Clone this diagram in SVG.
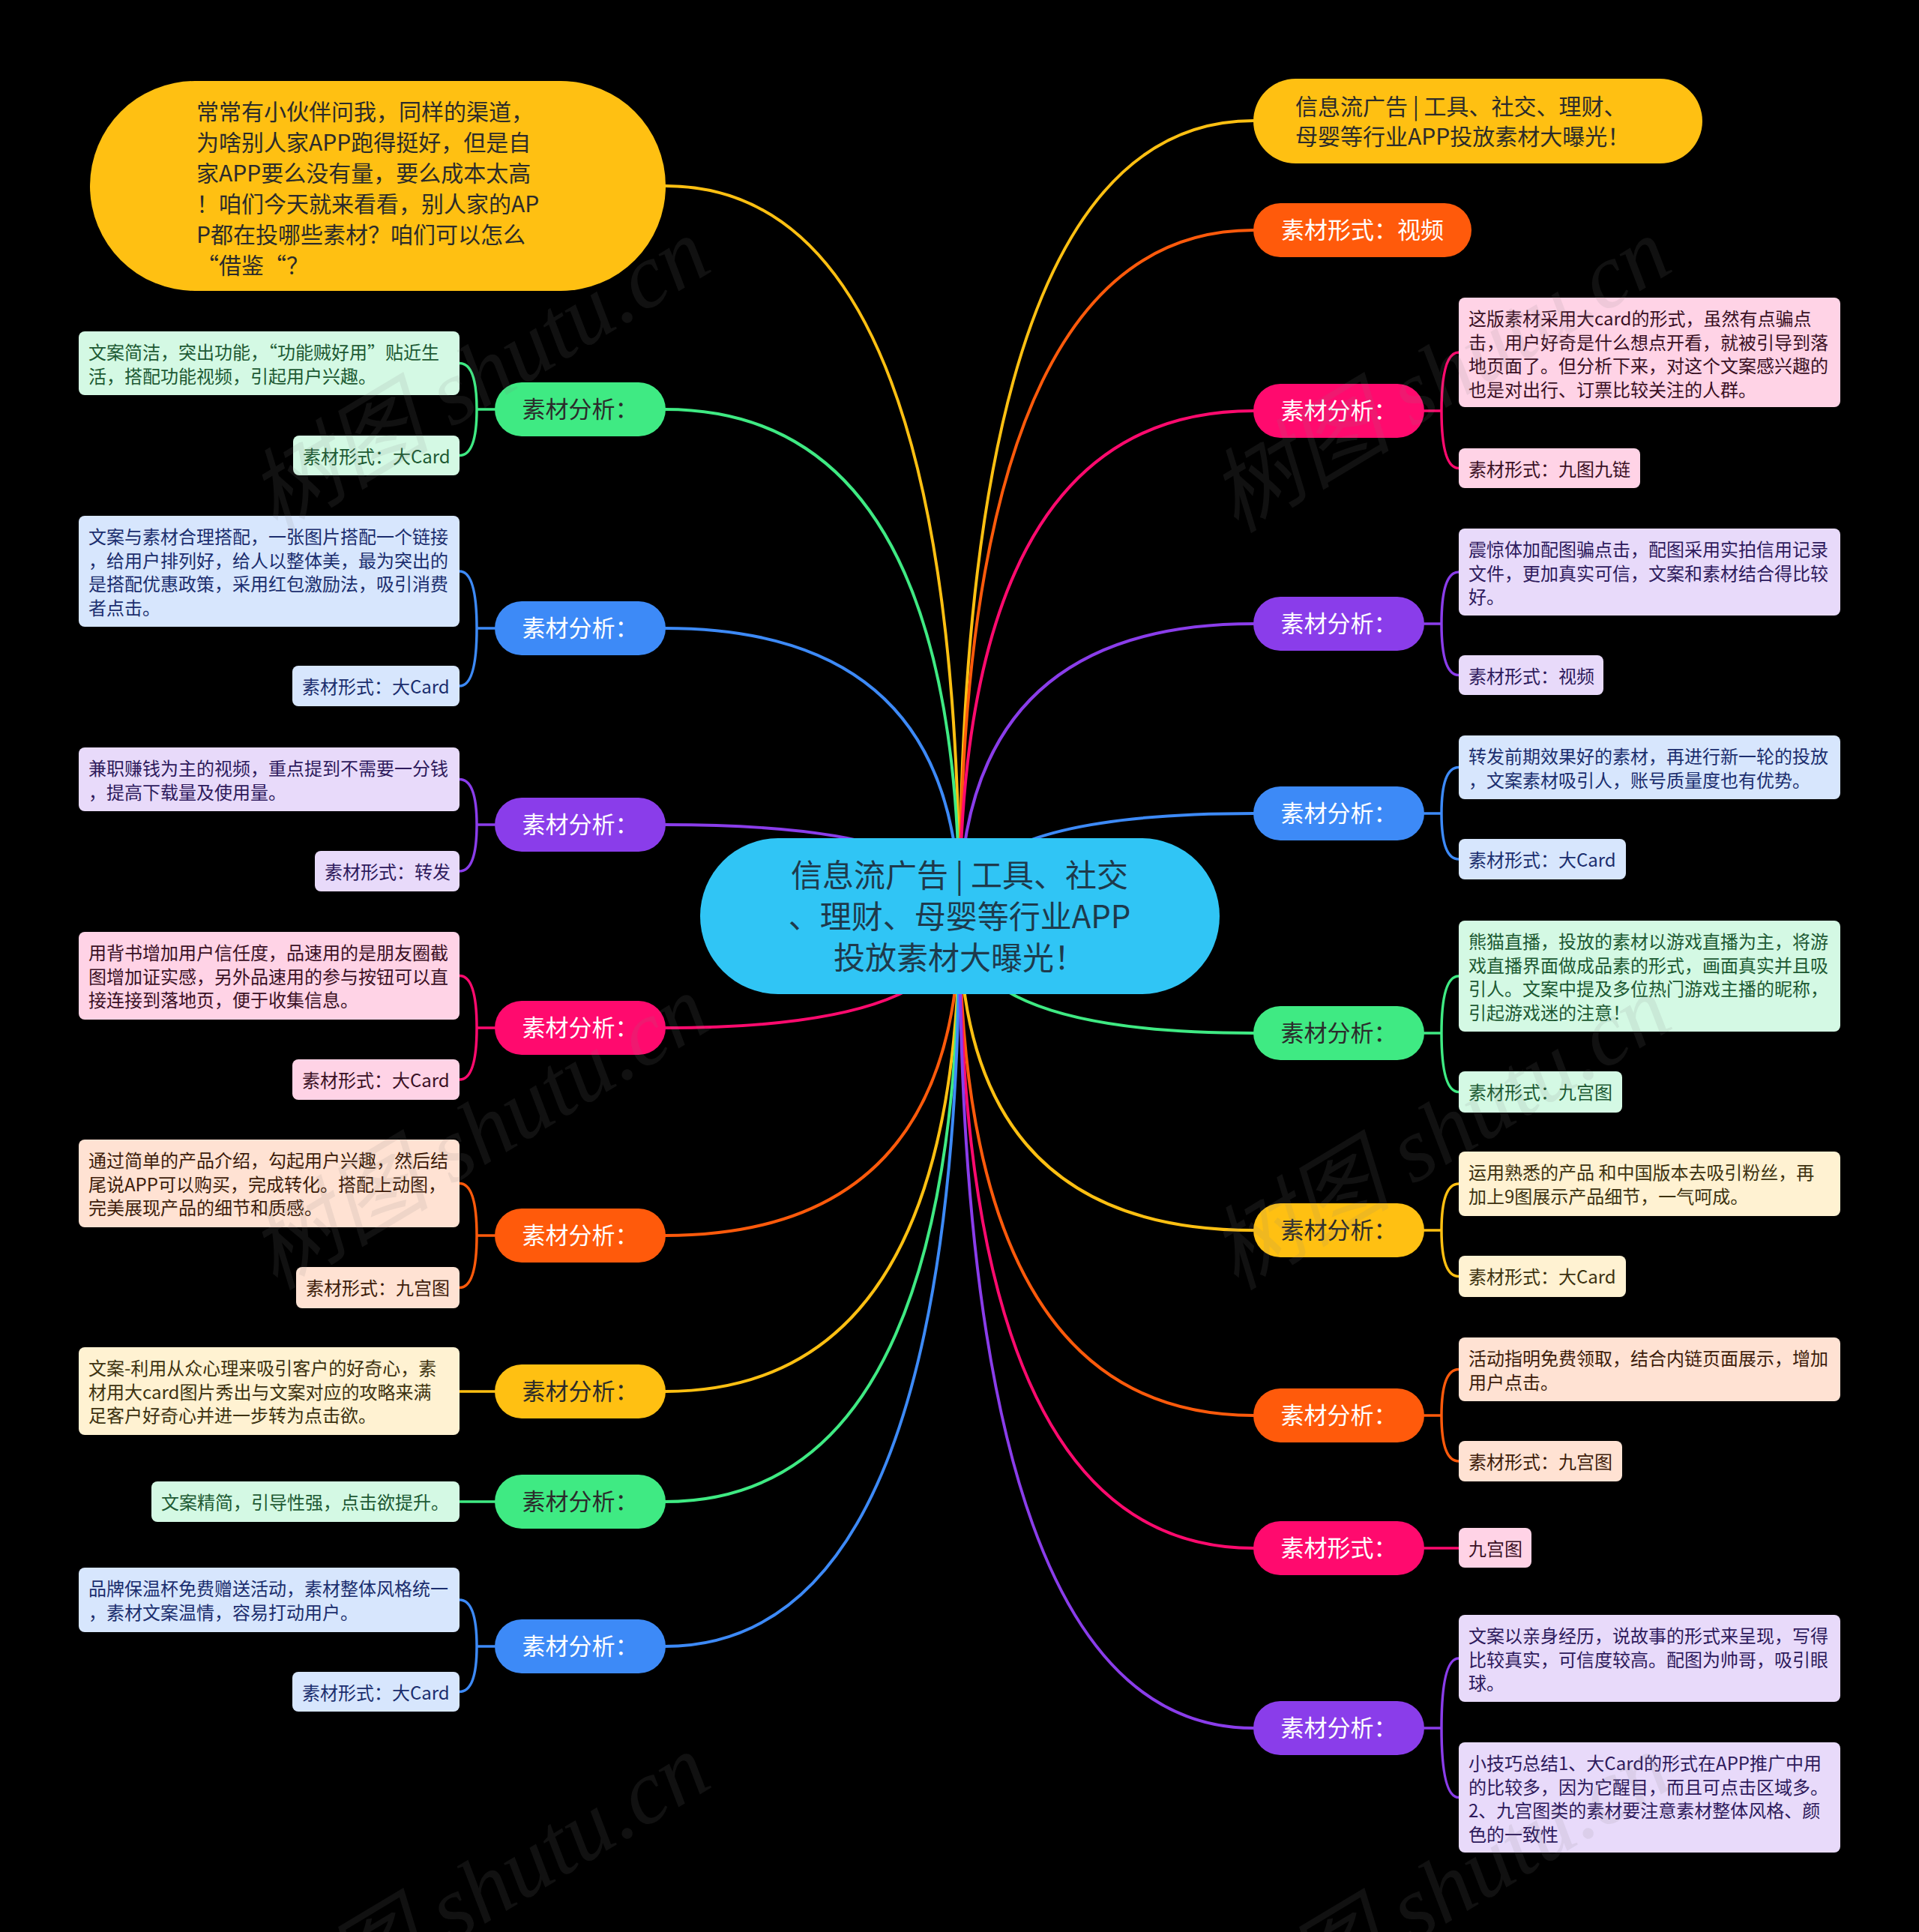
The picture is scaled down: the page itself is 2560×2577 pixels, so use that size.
<svg xmlns="http://www.w3.org/2000/svg" width="2560" height="2577" viewBox="0 0 2560 2577">
<style>
text{font-family:"Noto Sans CJK SC","Noto Sans CJK JP",sans-serif}
.n1 text{font-size:31px;text-anchor:middle}
.lf text{font-size:24px}
.wt{fill:#fff}
.dk{fill:#2b2b2b}
.cY{fill:#FFC012}.cO{fill:#FF5A0B}.cK{fill:#FF0A6E}.cP{fill:#8A3DEA}.cB{fill:#3D8AF7}.cG{fill:#3FEA83}
.lG rect{fill:#D4F9E4}.lG text{fill:#1D5A33}
.lB rect{fill:#D7E6FD}.lB text{fill:#1B2E6E}
.lP rect{fill:#E8DAFA}.lP text{fill:#2E1A5C}
.lK rect{fill:#FFD3E6}.lK text{fill:#3A1024}
.lO rect{fill:#FFE2D3}.lO text{fill:#3D1C0A}
.lY rect{fill:#FFF2D2}.lY text{fill:#3D3210}
.sY{stroke:#FFC012}.sO{stroke:#FF5A0B}.sK{stroke:#FF0A6E}.sP{stroke:#8A3DEA}.sB{stroke:#3D8AF7}.sG{stroke:#3FEA83}
.wm{font-family:"Liberation Serif","Noto Sans CJK SC",serif}
</style>
<rect x="0" y="0" width="2560" height="2577" fill="#000"/>

<g id="connectors" fill="none" stroke-linecap="round">
 <g stroke-width="4">
  <path class="sY" d="M1280 1222 Q1280 248 888 248"/>
  <path class="sG" d="M1280 1222 Q1280 546 887 546"/>
  <path class="sB" d="M1280 1222 Q1280 838 887 838"/>
  <path class="sP" d="M1280 1222 Q1280 1100 887 1100"/>
  <path class="sK" d="M1280 1222 Q1280 1371 887 1371"/>
  <path class="sO" d="M1280 1222 Q1280 1648 887 1648"/>
  <path class="sY" d="M1280 1222 Q1280 1856 887 1856"/>
  <path class="sG" d="M1280 1222 Q1280 2003 887 2003"/>
  <path class="sB" d="M1280 1222 Q1280 2196 887 2196"/>
  <path class="sY" d="M1280 1222 Q1280 161 1672 161"/>
  <path class="sO" d="M1280 1222 Q1280 307 1672 307"/>
  <path class="sK" d="M1280 1222 Q1280 548 1672 548"/>
  <path class="sP" d="M1280 1222 Q1280 832 1672 832"/>
  <path class="sB" d="M1280 1222 Q1280 1085 1672 1085"/>
  <path class="sG" d="M1280 1222 Q1280 1378 1672 1378"/>
  <path class="sY" d="M1280 1222 Q1280 1641 1672 1641"/>
  <path class="sO" d="M1280 1222 Q1280 1888 1672 1888"/>
  <path class="sK" d="M1280 1222 Q1280 2065 1672 2065"/>
  <path class="sP" d="M1280 1222 Q1280 2305 1672 2305"/>
 </g>
 <g stroke-width="3.5">
  <path class="sG" d="M660 546 L636 546 M636 546 Q636 484.5 613 484.5 M636 546 Q636 607.5 613 607.5"/>
  <path class="sB" d="M660 838 L636 838 M636 838 Q636 762 613 762 M636 838 Q636 915 613 915"/>
  <path class="sP" d="M660 1100 L636 1100 M636 1100 Q636 1039.5 613 1039.5 M636 1100 Q636 1162 613 1162"/>
  <path class="sK" d="M660 1371 L636 1371 M636 1371 Q636 1301.5 613 1301.5 M636 1371 Q636 1440 613 1440"/>
  <path class="sO" d="M660 1648 L636 1648 M636 1648 Q636 1578.5 613 1578.5 M636 1648 Q636 1717.5 613 1717.5"/>
  <path class="sY" d="M660 1856 L613 1856"/>
  <path class="sG" d="M660 2003 L613 2003"/>
  <path class="sB" d="M660 2196 L636 2196 M636 2196 Q636 2134 613 2134 M636 2196 Q636 2256.5 613 2256.5"/>
  <path class="sK" d="M1900 548 L1923 548 M1923 548 Q1923 470 1946 470 M1923 548 Q1923 624.5 1946 624.5"/>
  <path class="sP" d="M1900 832 L1923 832 M1923 832 Q1923 763 1946 763 M1923 832 Q1923 900.5 1946 900.5"/>
  <path class="sB" d="M1900 1085 L1923 1085 M1923 1085 Q1923 1023.5 1946 1023.5 M1923 1085 Q1923 1146 1946 1146"/>
  <path class="sG" d="M1900 1378 L1923 1378 M1923 1378 Q1923 1302 1946 1302 M1923 1378 Q1923 1456.5 1946 1456.5"/>
  <path class="sY" d="M1900 1641 L1923 1641 M1923 1641 Q1923 1579 1946 1579 M1923 1641 Q1923 1702.5 1946 1702.5"/>
  <path class="sO" d="M1900 1888 L1923 1888 M1923 1888 Q1923 1826.5 1946 1826.5 M1923 1888 Q1923 1949 1946 1949"/>
  <path class="sK" d="M1900 2065 L1946 2065"/>
  <path class="sP" d="M1900 2305 L1923 2305 M1923 2305 Q1923 2212 1946 2212 M1923 2305 Q1923 2397.5 1946 2397.5"/>
 </g>
</g>

<g id="center">
 <rect x="934" y="1118" width="693" height="208" rx="104" fill="#30C5F5"/>
 <text font-size="42" text-anchor="middle" fill="#1E3A4C"><tspan x="1280" y="1183">信息流广告 | 工具、社交</tspan><tspan x="1280" y="1238">、理财、母婴等行业APP</tspan><tspan x="1280" y="1293">投放素材大曝光！</tspan></text>
</g>

<g id="L0">
 <rect class="cY" x="120" y="108" width="768" height="280" rx="140"/>
 <text font-size="30" class="dk"><tspan x="262" y="160">常常有小伙伴问我，同样的渠道，</tspan><tspan x="262" y="201">为啥别人家APP跑得挺好，但是自</tspan><tspan x="262" y="242">家APP要么没有量，要么成本太高</tspan><tspan x="262" y="283">！咱们今天就来看看，别人家的AP</tspan><tspan x="262" y="324">P都在投哪些素材？咱们可以怎么</tspan><tspan x="262" y="365">“借鉴“？</tspan></text>
</g>

<g id="R0">
 <rect class="cY" x="1672" y="105" width="599" height="113" rx="56.5"/>
 <text font-size="30" class="dk"><tspan x="1728" y="153">信息流广告 | 工具、社交、理财、</tspan><tspan x="1728" y="193">母婴等行业APP投放素材大曝光！</tspan></text>
</g>

<g id="L1" class="n1"><rect class="cG" x="660" y="510" width="228" height="72" rx="36"/><text x="774" y="557" class="dk">素材分析：</text></g>
<g id="L2" class="n1"><rect class="cB" x="660" y="802" width="228" height="72" rx="36"/><text x="774" y="849" class="wt">素材分析：</text></g>
<g id="L3" class="n1"><rect class="cP" x="660" y="1064" width="228" height="72" rx="36"/><text x="774" y="1111" class="wt">素材分析：</text></g>
<g id="L4" class="n1"><rect class="cK" x="660" y="1335" width="228" height="72" rx="36"/><text x="774" y="1382" class="wt">素材分析：</text></g>
<g id="L5" class="n1"><rect class="cO" x="660" y="1612" width="228" height="72" rx="36"/><text x="774" y="1659" class="wt">素材分析：</text></g>
<g id="L6" class="n1"><rect class="cY" x="660" y="1820" width="228" height="72" rx="36"/><text x="774" y="1867" class="dk">素材分析：</text></g>
<g id="L7" class="n1"><rect class="cG" x="660" y="1967" width="228" height="72" rx="36"/><text x="774" y="2014" class="dk">素材分析：</text></g>
<g id="L8" class="n1"><rect class="cB" x="660" y="2160" width="228" height="72" rx="36"/><text x="774" y="2207" class="wt">素材分析：</text></g>

<g id="R1" class="n1"><rect class="cO" x="1672" y="271" width="291" height="72" rx="36"/><text x="1817.5" y="318" class="wt">素材形式：视频</text></g>
<g id="R2" class="n1"><rect class="cK" x="1672" y="512" width="228" height="72" rx="36"/><text x="1786" y="559" class="wt">素材分析：</text></g>
<g id="R3" class="n1"><rect class="cP" x="1672" y="796" width="228" height="72" rx="36"/><text x="1786" y="843" class="wt">素材分析：</text></g>
<g id="R4" class="n1"><rect class="cB" x="1672" y="1049" width="228" height="72" rx="36"/><text x="1786" y="1096" class="wt">素材分析：</text></g>
<g id="R5" class="n1"><rect class="cG" x="1672" y="1342" width="228" height="72" rx="36"/><text x="1786" y="1389" class="dk">素材分析：</text></g>
<g id="R6" class="n1"><rect class="cY" x="1672" y="1605" width="228" height="72" rx="36"/><text x="1786" y="1652" class="dk">素材分析：</text></g>
<g id="R7" class="n1"><rect class="cO" x="1672" y="1852" width="228" height="72" rx="36"/><text x="1786" y="1899" class="wt">素材分析：</text></g>
<g id="R8" class="n1"><rect class="cK" x="1672" y="2029" width="228" height="72" rx="36"/><text x="1786" y="2076" class="wt">素材形式：</text></g>
<g id="R9" class="n1"><rect class="cP" x="1672" y="2269" width="228" height="72" rx="36"/><text x="1786" y="2316" class="wt">素材分析：</text></g>

<g id="L1a" class="lf lG"><rect x="105" y="442" width="508" height="85" rx="8"/><text><tspan x="118" y="479">文案简洁，突出功能，“功能贼好用”贴近生</tspan><tspan x="118" y="510.5">活，搭配功能视频，引起用户兴趣。</tspan></text></g>
<g id="L1b" class="lf lG"><rect x="391" y="581" width="222" height="53" rx="8"/><text x="404" y="618">素材形式：大Card</text></g>

<g id="L2a" class="lf lB"><rect x="105" y="688" width="508" height="148" rx="8"/><text><tspan x="118" y="725">文案与素材合理搭配，一张图片搭配一个链接</tspan><tspan x="118" y="756.5">，给用户排列好，给人以整体美，最为突出的</tspan><tspan x="118" y="788">是搭配优惠政策，采用红包激励法，吸引消费</tspan><tspan x="118" y="819.5">者点击。</tspan></text></g>
<g id="L2b" class="lf lB"><rect x="390" y="888" width="223" height="54" rx="8"/><text x="403" y="925">素材形式：大Card</text></g>

<g id="L3a" class="lf lP"><rect x="105" y="997" width="508" height="85" rx="8"/><text><tspan x="118" y="1034">兼职赚钱为主的视频，重点提到不需要一分钱</tspan><tspan x="118" y="1065.5">，提高下载量及使用量。</tspan></text></g>
<g id="L3b" class="lf lP"><rect x="420" y="1135" width="193" height="54" rx="8"/><text x="433" y="1172">素材形式：转发</text></g>

<g id="L4a" class="lf lK"><rect x="105" y="1243" width="508" height="117" rx="8"/><text><tspan x="118" y="1280">用背书增加用户信任度，品速用的是朋友圈截</tspan><tspan x="118" y="1311.5">图增加证实感，另外品速用的参与按钮可以直</tspan><tspan x="118" y="1343">接连接到落地页，便于收集信息。</tspan></text></g>
<g id="L4b" class="lf lK"><rect x="390" y="1413" width="223" height="54" rx="8"/><text x="403" y="1450">素材形式：大Card</text></g>

<g id="L5a" class="lf lO"><rect x="105" y="1520" width="508" height="117" rx="8"/><text><tspan x="118" y="1557">通过简单的产品介绍，勾起用户兴趣，然后结</tspan><tspan x="118" y="1588.5">尾说APP可以购买，完成转化。搭配上动图，</tspan><tspan x="118" y="1620">完美展现产品的细节和质感。</tspan></text></g>
<g id="L5b" class="lf lO"><rect x="395" y="1690" width="218" height="55" rx="8"/><text x="408" y="1727">素材形式：九宫图</text></g>

<g id="L6a" class="lf lY"><rect x="105" y="1797" width="508" height="117" rx="8"/><text><tspan x="118" y="1834">文案-利用从众心理来吸引客户的好奇心，素</tspan><tspan x="118" y="1865.5">材用大card图片秀出与文案对应的攻略来满</tspan><tspan x="118" y="1897">足客户好奇心并进一步转为点击欲。</tspan></text></g>

<g id="L7a" class="lf lG"><rect x="202" y="1976" width="411" height="54" rx="8"/><text x="215" y="2013">文案精简，引导性强，点击欲提升。</text></g>

<g id="L8a" class="lf lB"><rect x="105" y="2091" width="508" height="86" rx="8"/><text><tspan x="118" y="2128">品牌保温杯免费赠送活动，素材整体风格统一</tspan><tspan x="118" y="2159.5">，素材文案温情，容易打动用户。</tspan></text></g>
<g id="L8b" class="lf lB"><rect x="390" y="2230" width="223" height="53" rx="8"/><text x="403" y="2267">素材形式：大Card</text></g>

<g id="R2a" class="lf lK"><rect x="1946" y="397" width="509" height="146" rx="8"/><text><tspan x="1959" y="434">这版素材采用大card的形式，虽然有点骗点</tspan><tspan x="1959" y="465.5">击，用户好奇是什么想点开看，就被引导到落</tspan><tspan x="1959" y="497">地页面了。但分析下来，对这个文案感兴趣的</tspan><tspan x="1959" y="528.5">也是对出行、订票比较关注的人群。</tspan></text></g>
<g id="R2b" class="lf lK"><rect x="1946" y="598" width="242" height="53" rx="8"/><text x="1959" y="635">素材形式：九图九链</text></g>

<g id="R3a" class="lf lP"><rect x="1946" y="705" width="509" height="116" rx="8"/><text><tspan x="1959" y="742">震惊体加配图骗点击，配图采用实拍信用记录</tspan><tspan x="1959" y="773.5">文件，更加真实可信，文案和素材结合得比较</tspan><tspan x="1959" y="805">好。</tspan></text></g>
<g id="R3b" class="lf lP"><rect x="1946" y="874" width="193" height="53" rx="8"/><text x="1959" y="911">素材形式：视频</text></g>

<g id="R4a" class="lf lB"><rect x="1946" y="981" width="509" height="85" rx="8"/><text><tspan x="1959" y="1018">转发前期效果好的素材，再进行新一轮的投放</tspan><tspan x="1959" y="1049.5">，文案素材吸引人，账号质量度也有优势。</tspan></text></g>
<g id="R4b" class="lf lB"><rect x="1946" y="1119" width="223" height="54" rx="8"/><text x="1959" y="1156">素材形式：大Card</text></g>

<g id="R5a" class="lf lG"><rect x="1946" y="1228" width="509" height="148" rx="8"/><text><tspan x="1959" y="1265">熊猫直播，投放的素材以游戏直播为主，将游</tspan><tspan x="1959" y="1296.5">戏直播界面做成品素的形式，画面真实并且吸</tspan><tspan x="1959" y="1328">引人。文案中提及多位热门游戏主播的昵称，</tspan><tspan x="1959" y="1359.5">引起游戏迷的注意！</tspan></text></g>
<g id="R5b" class="lf lG"><rect x="1946" y="1429" width="218" height="55" rx="8"/><text x="1959" y="1466">素材形式：九宫图</text></g>

<g id="R6a" class="lf lY"><rect x="1946" y="1536" width="509" height="86" rx="8"/><text><tspan x="1959" y="1573">运用熟悉的产品 和中国版本去吸引粉丝，再</tspan><tspan x="1959" y="1604.5">加上9图展示产品细节，一气呵成。</tspan></text></g>
<g id="R6b" class="lf lY"><rect x="1946" y="1675" width="223" height="55" rx="8"/><text x="1959" y="1712">素材形式：大Card</text></g>

<g id="R7a" class="lf lO"><rect x="1946" y="1784" width="509" height="85" rx="8"/><text><tspan x="1959" y="1821">活动指明免费领取，结合内链页面展示，增加</tspan><tspan x="1959" y="1852.5">用户点击。</tspan></text></g>
<g id="R7b" class="lf lO"><rect x="1946" y="1922" width="218" height="54" rx="8"/><text x="1959" y="1959">素材形式：九宫图</text></g>

<g id="R8a" class="lf lK"><rect x="1946" y="2038" width="97" height="53" rx="8"/><text x="1959" y="2075">九宫图</text></g>

<g id="R9a" class="lf lP"><rect x="1946" y="2154" width="509" height="116" rx="8"/><text><tspan x="1959" y="2191">文案以亲身经历，说故事的形式来呈现，写得</tspan><tspan x="1959" y="2222.5">比较真实，可信度较高。配图为帅哥，吸引眼</tspan><tspan x="1959" y="2254">球。</tspan></text></g>
<g id="R9b" class="lf lP"><rect x="1946" y="2324" width="509" height="147" rx="8"/><text><tspan x="1959" y="2361">小技巧总结1、大Card的形式在APP推广中用</tspan><tspan x="1959" y="2392.5">的比较多，因为它醒目，而且可点击区域多。</tspan><tspan x="1959" y="2424">2、九宫图类的素材要注意素材整体风格、颜</tspan><tspan x="1959" y="2455.5">色的一致性</tspan></text></g>

<g id="watermark" fill="#808080" fill-opacity="0.13" font-size="122" font-style="italic">
 <text class="wm" transform="translate(367 712) rotate(-31)">树图 shutu.cn</text>
 <text class="wm" transform="translate(1649 712) rotate(-31)">树图 shutu.cn</text>
 <text class="wm" transform="translate(367 1722) rotate(-31)">树图 shutu.cn</text>
 <text class="wm" transform="translate(1649 1722) rotate(-31)">树图 shutu.cn</text>
 <text class="wm" transform="translate(367 2734) rotate(-31)">树图 shutu.cn</text>
 <text class="wm" transform="translate(1649 2734) rotate(-31)">树图 shutu.cn</text>
</g>
</svg>
